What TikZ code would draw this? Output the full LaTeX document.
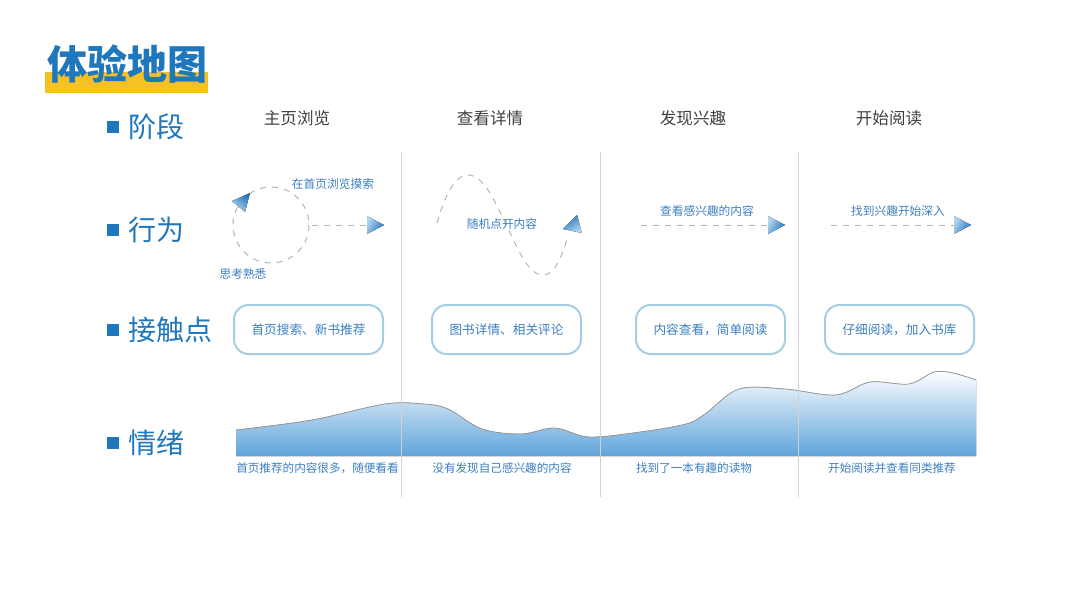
\documentclass[tikz,border=0pt]{standalone}
\usepackage{fontspec}
\setmainfont{Noto Sans CJK SC}
\definecolor{mapblue}{HTML}{1F77BC}
\definecolor{textblue}{HTML}{3A7FC1}
\definecolor{boxline}{HTML}{A5CDE6}
\definecolor{tipdark}{HTML}{2474BC}
\definecolor{tiplight}{HTML}{B3D6F1}
\definecolor{wavebot}{HTML}{5FA4DA}
\definecolor{titlebar}{HTML}{F6C123}
\definecolor{dashgray}{HTML}{B4B4B4}
\definecolor{divgray}{HTML}{D2D2D2}
\tikzset{%
  rowlabel/.style  = {anchor=west, text=mapblue, inner sep=0pt,%
                      font=\fontsize{21}{25}\selectfont},%
  rowmark/.style   = {fill=mapblue, minimum size=9pt, inner sep=0pt},%
  header/.style    = {text=black!75, font=\fontsize{12.4}{14}\selectfont},%
  actlabel/.style  = {text=textblue, inner sep=1pt,%
                      font=\fontsize{8.8}{10}\selectfont},%
  touchbox/.style  = {draw=boxline, line width=1.5pt, rounded corners=11pt,%
                      minimum width=111.75pt, minimum height=36.75pt,%
                      text=textblue, font=\fontsize{9.5}{11}\selectfont},%
  moodlabel/.style = {text=textblue, inner sep=0pt,%
                      font=\fontsize{8.7}{10}\selectfont},%
  dashline/.style  = {draw=dashgray, line width=0.75pt,%
                      dash pattern=on 4.5pt off 4.5pt},%
  tiphead/.style   = {top color=tipdark, bottom color=tiplight, shading angle=#1}%
}
\begin{document}
\begin{tikzpicture}[x=0.75pt,y=-0.75pt]
  \useasboundingbox (0,0) rectangle (1067,600);
  \fill[titlebar] (45,72) rectangle (208,93);
  \node[text=mapblue, inner sep=0pt, font=\fontsize{30}{36}\selectfont\bfseries] (title) at (127,64) {体验地图};
  \foreach \y/\t/\n in {127/阶段/stage, 230/行为/act, 330/接触点/touch, 443/情绪/mood}{
    \node[rowmark] (\n m) at (113,\y) {};
    \node[rowlabel] (\n) at (128,\y) {\t};
  }
  \foreach \x/\t [count=\i] in {297/主页浏览, 490/查看详情, 693/发现兴趣, 889/开始阅读}
    \node[header] (h\i) at (\x,118) {\t};
  % mood curve
  \fill[top color=white, bottom color=wavebot] (236,456) -- plot[smooth, tension=0.55] coordinates {(236,430) (312,420) (385,404) (424,404) (448,409) (482,429) (521,434) (555,428) (589,437) (640,432) (686,424) (705,414) (739,389) (785,389) (836,395) (870,382) (909,384) (934,372) (953,373) (976,380)} -- (976,456) -- cycle;
  \draw[black!40, line width=0.6pt] plot[smooth, tension=0.55] coordinates {(236,430) (312,420) (385,404) (424,404) (448,409) (482,429) (521,434) (555,428) (589,437) (640,432) (686,424) (705,414) (739,389) (785,389) (836,395) (870,382) (909,384) (934,372) (953,373) (976,380)};
  \foreach \x [count=\i] in {401,600,798}
    \draw[divgray, line width=0.6pt] (\x,152) coordinate (d\i) -- (\x,497);
  % actions
  \coordinate (c1) at (271,225);
  \draw[dashline] (c1) circle[radius=38];
  \fill[tiphead=-40] (232,201) -- (250,193) -- (245,212) -- cycle;
  \coordinate (a1) at (312,225);
  \coordinate (t1) at (367,225);
  \draw[dashline] (a1) -- (t1);
  \fill[tiphead=-120] (t1) ++(0,-9) -- ++(17,9) -- ++(-17,9) -- cycle;
  \node[actlabel] (l1) at (333,184) {在首页浏览摸索};
  \node[actlabel] (l0) at (243,274) {思考熟悉};
  \coordinate (w0) at (437,223);
  \coordinate (t2) at (568,236);
  \draw[dashline] (w0) .. controls (445,195) and (455,175) .. (468,175)
    .. controls (485,175) and (496,205) .. (508,228)
    .. controls (520,255) and (530,275) .. (543,275)
    .. controls (555,275) and (562,256) .. (t2);
  \fill[tiphead=30] (563,229) -- (577,215) -- (582,233) -- cycle;
  \node[actlabel] (l2) at (502,224) {随机点开内容};
  \coordinate (a3) at (641,225);
  \coordinate (t3) at (768,225);
  \draw[dashline] (a3) -- (t3);
  \fill[tiphead=-120] (t3) ++(0,-9) -- ++(17,9) -- ++(-17,9) -- cycle;
  \node[actlabel] (l3) at (707,211) {查看感兴趣的内容};
  \coordinate (a4) at (831,225);
  \coordinate (t4) at (954,225);
  \draw[dashline] (a4) -- (t4);
  \fill[tiphead=-120] (t4) ++(0,-9) -- ++(17,9) -- ++(-17,9) -- cycle;
  \node[actlabel] (l4) at (898,211) {找到兴趣开始深入};
  % touch points
  \foreach \x/\t [count=\i] in {308.5/首页搜索、新书推荐, 506.5/图书详情、相关评论, 710.5/内容查看，简单阅读, 899.5/仔细阅读，加入书库}
    \node[touchbox] (b\i) at (\x,329.5) {\t};
  % moods
  \node[moodlabel, anchor=west] (m1) at (236,468) {首页推荐的内容很多，随便看看};
  \node[moodlabel] (m2) at (502,468) {没有发现自己感兴趣的内容};
  \node[moodlabel] (m3) at (694,468) {找到了一本有趣的读物};
  \node[moodlabel] (m4) at (892,468) {开始阅读并查看同类推荐};
\end{tikzpicture}
\end{document}
